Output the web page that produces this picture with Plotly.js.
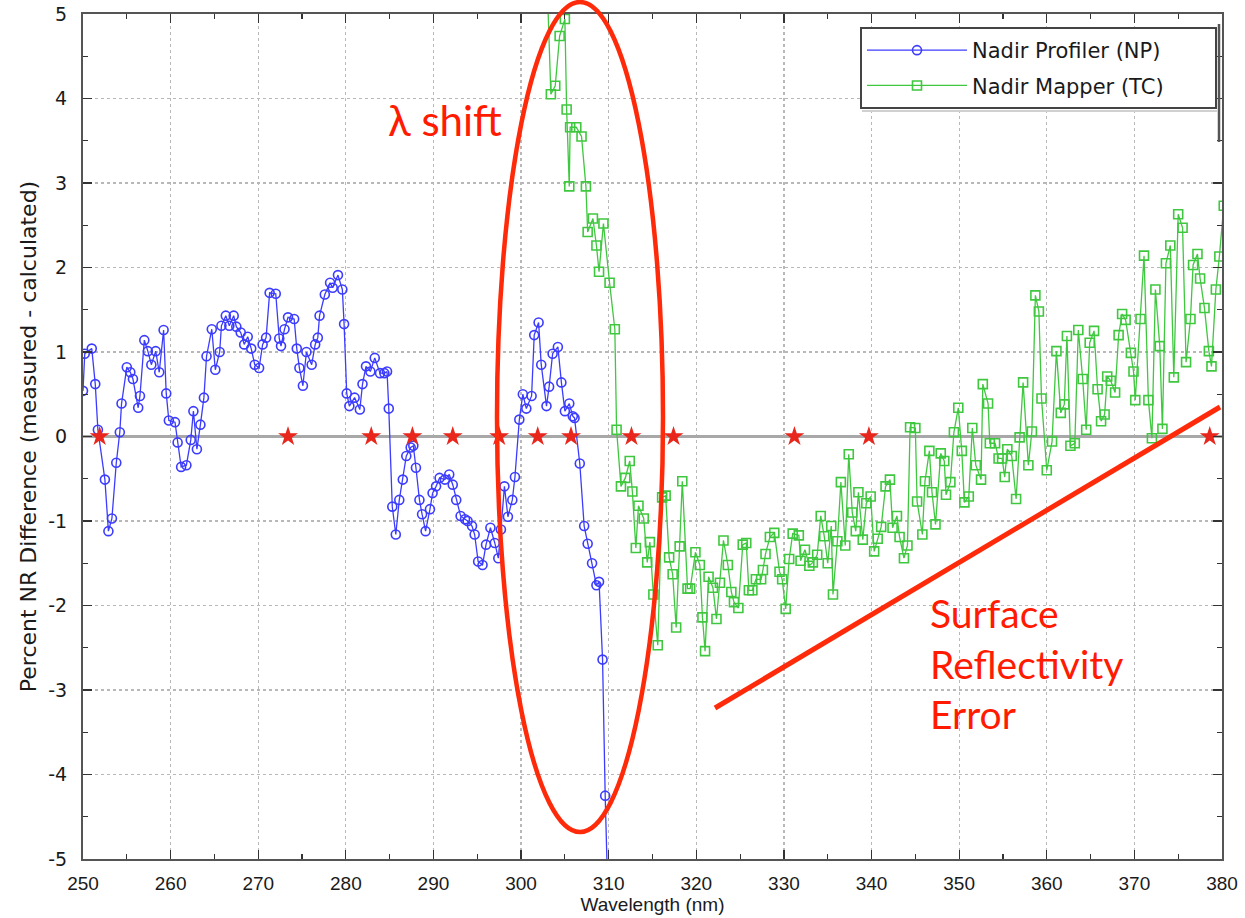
<!DOCTYPE html>
<html>
<head>
<meta charset="utf-8">
<script src="https://cdn.plot.ly/plotly-3.0.1.min.js"></script>
<style>html,body{margin:0;padding:0;background:#fff;}#chart{width:1245px;height:918px;}</style>
</head>
<body>
<div id="chart"></div>
<script>
// Nadir Profiler (NP) series
const npWavelength = [250.0,250.2,251.0,251.4,251.7,252.5,252.9,253.3,253.8,254.2,254.4,255.0,255.4,255.7,256.3,256.5,257.0,257.4,257.8,258.3,258.7,259.2,259.5,259.8,260.5,260.8,261.2,261.8,262.3,262.6,263.0,263.4,263.8,264.1,264.7,265.1,265.6,265.8,266.3,266.7,267.2,267.5,268.0,268.4,268.8,269.2,269.6,270.1,270.5,270.9,271.3,272.0,272.4,272.6,273.0,273.4,274.1,274.4,274.7,275.1,275.5,276.1,276.5,276.8,277.0,277.6,278.2,278.5,279.1,279.6,279.8,280.1,280.4,281.0,281.6,281.9,282.3,282.8,283.3,283.9,284.4,284.7,284.9,285.3,285.7,286.1,286.5,286.9,287.4,287.7,288.0,288.4,288.7,289.1,289.6,289.9,290.3,290.7,291.3,291.8,292.2,292.6,293.1,293.6,293.9,294.4,294.7,295.1,295.6,296.0,296.5,297.0,297.4,297.7,298.1,298.5,299.0,299.3,299.8,300.2,300.6,301.2,301.5,302.0,302.3,302.9,303.2,303.6,304.2,304.6,305.0,305.5,305.9,306.1,306.7,307.2,307.6,308.1,308.6,308.9,309.3,309.6,310.0];
const npDiff = [0.54,0.98,1.04,0.62,0.08,-0.51,-1.12,-0.97,-0.31,0.05,0.39,0.82,0.76,0.68,0.34,0.48,1.14,1.01,0.85,1.01,0.76,1.26,0.51,0.19,0.17,-0.07,-0.36,-0.34,-0.04,0.30,-0.15,0.14,0.46,0.95,1.27,0.79,1.00,1.31,1.43,1.31,1.43,1.30,1.23,1.09,1.18,1.04,0.85,0.81,1.09,1.17,1.70,1.69,1.16,1.07,1.27,1.41,1.39,1.04,0.81,0.60,1.00,0.85,1.09,1.17,1.43,1.68,1.82,1.76,1.91,1.74,1.33,0.51,0.36,0.46,0.32,0.62,0.83,0.77,0.93,0.75,0.75,0.77,0.33,-0.83,-1.16,-0.75,-0.51,-0.23,-0.13,-0.11,-0.37,-0.75,-0.92,-1.12,-0.86,-0.67,-0.59,-0.49,-0.51,-0.45,-0.57,-0.75,-0.94,-0.98,-1.00,-1.06,-1.16,-1.48,-1.52,-1.28,-1.08,-1.26,-1.44,-1.10,-0.59,-0.95,-0.75,-0.48,0.20,0.50,0.33,0.48,1.20,1.35,0.85,0.36,0.59,0.98,1.06,0.64,0.30,0.39,0.24,0.22,-0.32,-1.06,-1.27,-1.50,-1.76,-1.72,-2.64,-4.25,-5.8];

// Nadir Mapper (TC) series
const tcWavelength = [302.9,303.4,303.9,304.4,305.0,305.2,305.5,305.6,306.3,306.9,307.4,307.6,308.2,308.6,308.9,309.4,310.1,310.7,310.9,311.4,311.9,312.4,312.7,313.1,313.4,314.0,314.4,314.7,315.1,315.6,316.1,316.5,316.9,317.3,317.7,318.1,318.4,319.0,319.3,319.9,320.4,320.7,321.0,321.4,321.9,322.3,322.7,323.1,323.6,324.0,324.3,324.8,325.3,325.7,326.0,326.4,326.8,327.4,327.6,327.9,328.4,328.9,329.5,329.8,330.2,330.6,331.0,331.7,331.9,332.4,332.9,333.3,333.8,334.2,334.6,335.0,335.4,335.6,336.1,336.5,337.0,337.4,337.8,338.2,338.5,339.0,339.4,339.9,340.3,340.7,341.1,341.6,342.1,342.4,342.9,343.2,343.7,344.1,344.4,345.0,345.2,345.8,346.1,346.6,346.9,347.3,347.9,348.3,348.5,349.0,349.4,349.9,350.3,350.6,351.1,351.5,351.9,352.5,352.7,353.3,353.5,354.1,354.5,354.9,355.2,355.5,356.0,356.5,356.9,357.3,357.9,358.3,358.7,359.1,359.4,360.0,360.6,361.1,361.6,362.0,362.3,362.7,363.2,363.6,364.1,364.5,364.9,365.4,365.8,366.2,366.6,366.9,367.3,367.8,368.2,368.6,369.0,369.6,369.9,370.1,370.7,371.1,371.6,372.0,372.4,372.9,373.2,373.6,374.1,374.5,375.0,375.5,375.9,376.4,376.7,377.2,377.5,378.0,378.5,378.8,379.3,379.7,380.2];
const tcDiff = [5.6,4.05,4.15,4.74,4.94,3.87,2.96,3.66,3.66,3.55,2.96,2.42,2.58,2.26,1.95,2.52,1.82,1.27,0.08,-0.59,-0.49,-0.29,-0.65,-1.32,-0.82,-0.97,-1.49,-1.25,-1.87,-2.47,-0.72,-0.70,-1.43,-1.63,-2.26,-1.30,-0.53,-1.80,-1.80,-1.37,-1.52,-2.14,-2.54,-1.66,-1.79,-2.16,-1.73,-1.23,-1.52,-1.84,-1.96,-2.03,-1.28,-1.26,-1.82,-1.82,-1.69,-1.69,-1.58,-1.39,-1.19,-1.14,-1.60,-1.69,-2.04,-1.45,-1.15,-1.17,-1.47,-1.34,-1.53,-1.49,-1.40,-0.94,-1.18,-1.50,-1.06,-1.87,-1.24,-0.54,-1.29,-0.21,-0.90,-1.12,-0.66,-1.22,-0.79,-0.71,-1.36,-1.21,-1.07,-0.59,-0.51,-1.08,-0.94,-1.19,-1.44,-1.29,0.11,0.10,-0.77,-1.16,-0.53,-0.17,-0.66,-1.04,-0.20,-0.29,-0.69,-0.54,0.05,0.34,-0.17,-0.78,-0.71,0.10,-0.34,-0.51,0.62,0.39,-0.08,-0.08,-0.26,-0.26,-0.48,-0.15,-0.23,-0.74,-0.01,0.64,-0.34,0.06,1.67,1.48,0.45,-0.40,-0.06,1.01,0.28,0.38,1.19,-0.11,-0.08,1.26,0.68,0.08,1.11,1.25,0.56,0.18,0.26,0.71,0.66,0.52,1.20,1.45,1.38,0.99,0.77,0.43,1.39,2.14,0.43,-0.02,1.74,1.07,0.09,2.05,2.26,0.70,2.63,2.47,0.88,1.39,2.03,2.16,1.87,1.52,1.01,0.83,1.74,2.13,2.73];

// Red star markers on the zero line
const starWavelength = [251.9,273.4,282.9,287.6,292.2,297.5,301.9,305.7,312.6,317.4,331.2,339.7,378.6];
const starDiff = [0,0,0,0,0,0,0,0,0,0,0,0,0];

// Axis tick labels
const xTickVals = [250,260,270,280,290,300,310,320,330,340,350,360,370,380];
const xTickText = ["250","260","270","280","290","300","310","320","330","340","350","360","370","380"];
const yTickVals = [-5,-4,-3,-2,-1,0,1,2,3,4,5];
const yTickText = ["-5","-4","-3","-2","-1","0","1","2","3","4","5"];

const seriesNames = ["Nadir Profiler (NP)", "Nadir Mapper (TC)"];
const xTitle = "Wavelength (nm)";
const yTitle = "Percent NR Difference (measured - calculated)";

// plot area in pixels: x 83..1222, y 14..859
const L = 83, R = 1222, T = 14, B = 859;
const px = v => (v - L) / (R - L);
const py = v => (B - v) / (B - T);

const traces = [
  {x: npWavelength, y: npDiff, name: seriesNames[0], type: 'scatter', mode: 'lines+markers',
   legendgroup: 'np',
   line: {color: '#3c3cff', width: 1.3},
   marker: {symbol: 'circle-open', size: 9, color: '#3c3cff', line: {width: 1.6}}},
  {x: tcWavelength, y: tcDiff, name: seriesNames[1], type: 'scatter', mode: 'lines+markers',
   legendgroup: 'tc',
   line: {color: '#3fc83f', width: 1.3},
   marker: {symbol: 'square-open', size: 9, color: '#3fc83f', line: {width: 1.6}}},
  {x: starWavelength, y: starDiff, type: 'scatter', mode: 'markers', showlegend: false,
   marker: {symbol: 'star', size: 15, color: '#e8261c', line: {width: 0}}}
];

const layout = {
  width: 1245, height: 918,
  margin: {l: L, r: 1245 - R, t: T, b: 918 - B},
  paper_bgcolor: '#ffffff', plot_bgcolor: '#ffffff',
  showlegend: true,
  font: {family: 'Liberation Sans, Arial, sans-serif', color: '#222'},
  xaxis: {
    range: [250, 380], tickmode: 'array', tickvals: xTickVals, ticktext: xTickText,
    ticks: 'inside', ticklen: 9, tickwidth: 1.2, tickcolor: '#333',
    mirror: 'allticks', showline: true, linecolor: '#555', linewidth: 2,
    showgrid: true, gridcolor: '#b8b8b8', griddash: 'dot', gridwidth: 1.2,
    zeroline: false, ticklabelstandoff: 6,
    minor: {dtick: 5, tick0: 250, ticks: 'inside', ticklen: 5, tickcolor: '#333', showgrid: false},
    tickfont: {family: 'Liberation Sans, Arial', size: 19, color: '#1a1a1a'},
    title: {text: xTitle, font: {family: 'Liberation Sans, Arial', size: 19, color: '#1a1a1a'}, standoff: 5}
  },
  yaxis: {
    range: [-5, 5], tickmode: 'array', tickvals: yTickVals, ticktext: yTickText,
    ticks: 'inside', ticklen: 9, tickwidth: 1.2, tickcolor: '#333',
    mirror: 'allticks', showline: true, linecolor: '#555', linewidth: 2,
    showgrid: true, gridcolor: '#b8b8b8', griddash: 'dot', gridwidth: 1.2,
    zeroline: true, zerolinecolor: '#a8a8a8', zerolinewidth: 2.5,
    ticklabelstandoff: 10,
    minor: {dtick: 0.5, tick0: 0, ticks: 'inside', ticklen: 5, tickcolor: '#333', showgrid: false},
    tickfont: {family: 'DejaVu Sans, Liberation Sans', size: 19, color: '#1a1a1a'},
    title: {text: yTitle, font: {family: 'DejaVu Sans, Liberation Sans', size: 22, color: '#1a1a1a'}, standoff: 6}
  },
  legend: {
    x: px(862), y: py(30), xanchor: 'left', yanchor: 'top',
    bgcolor: 'rgba(0,0,0,0)', borderwidth: 0,
    traceorder: 'grouped', tracegroupgap: 5, itemwidth: 100,
    font: {family: 'DejaVu Sans, Liberation Sans', size: 21, color: '#1a1a1a'}
  },
  shapes: [
    // legend box and its shadow edge
    {type: 'rect', xref: 'paper', yref: 'paper', layer: 'above',
     x0: px(861), x1: px(1216), y0: py(108), y1: py(28),
     fillcolor: '#ffffff', line: {color: '#444', width: 2}},
    {type: 'line', xref: 'paper', yref: 'paper', layer: 'above',
     x0: px(1219), x1: px(1219), y0: py(142), y1: py(24),
     line: {color: '#555', width: 2.5}},
    {type: 'line', xref: 'paper', yref: 'paper', layer: 'above',
     x0: px(862), x1: px(1217), y0: py(111), y1: py(111),
     line: {color: '#d0d0d0', width: 2}},
    // annotation ellipse and trend line
    {type: 'circle', xref: 'paper', yref: 'paper',
     x0: px(497), x1: px(663), y0: py(832), y1: py(2),
     line: {color: '#ff2a0a', width: 4.5}},
    {type: 'line', xref: 'paper', yref: 'paper',
     x0: px(715), y0: py(708), x1: px(1220), y1: py(407),
     line: {color: '#ff2a0a', width: 5}}
  ],
  annotations: [
    {xref: 'paper', yref: 'paper', x: px(445), y: py(120), xanchor: 'center', yanchor: 'middle',
     text: 'λ shift', showarrow: false, font: {family: 'Lato, Open Sans, sans-serif', size: 42, color: '#ff1a00'}},
    {xref: 'paper', yref: 'paper', x: px(928), y: py(664), xanchor: 'left', yanchor: 'middle', align: 'left',
     text: 'Surface<br>Reflectivity<br>Error', showarrow: false,
     font: {family: 'Lato, Open Sans, sans-serif', size: 39, color: '#ff1a00'}}
  ]
};

Plotly.newPlot('chart', traces, layout, {displayModeBar: false, staticPlot: true});
</script>
</body>
</html>
